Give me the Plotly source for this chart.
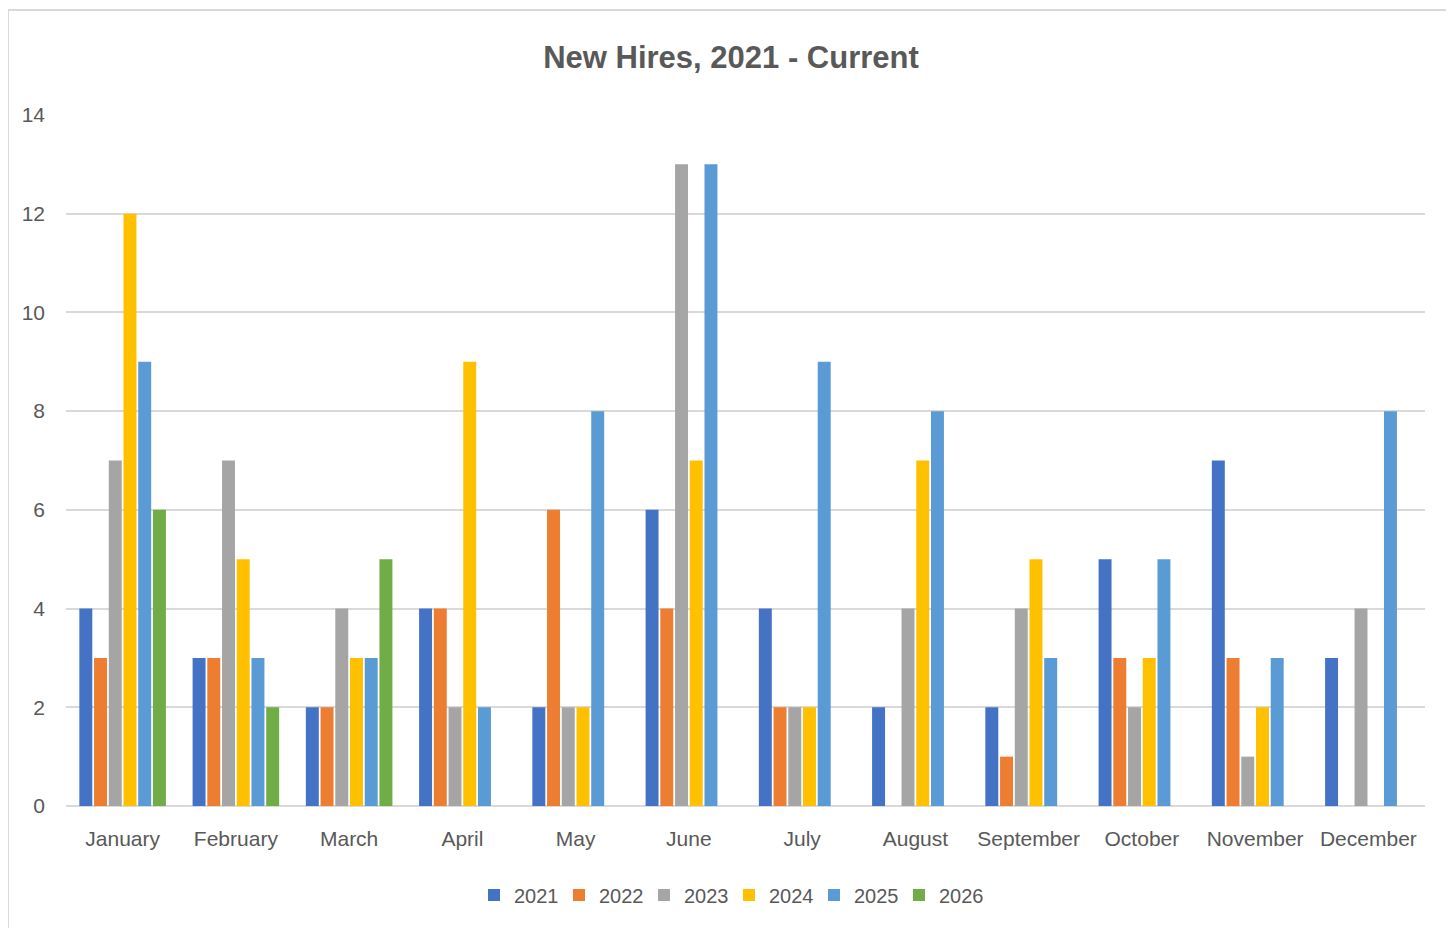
import plotly.graph_objects as go

months = ["January", "February", "March", "April", "May", "June", "July",
          "August", "September", "October", "November", "December"]
series_names = ["2021", "2022", "2023", "2024", "2025", "2026"]
hires_2021 = [4, 3, 2, 4, 2, 6, 4, 2, 2, 5, 7, 3]
hires_2022 = [3, 3, 2, 4, 6, 4, 2, None, 1, 3, 3, None]
hires_2023 = [7, 7, 4, 2, 2, 13, 2, 4, 4, 2, 1, 4]
hires_2024 = [12, 5, 3, 9, 2, 7, 2, 7, 5, 3, 2, None]
hires_2025 = [9, 3, 3, 2, 8, 13, 9, 8, 3, 5, 3, 8]
hires_2026 = [6, 2, 5, None, None, None, None, None, None, None, None, None]
colors = ["#4472C4", "#ED7D31", "#A5A5A5", "#FFC000", "#5B9BD5", "#70AD47"]
y_ticks = [0, 2, 4, 6, 8, 10, 12, 14]

all_series = [hires_2021, hires_2022, hires_2023, hires_2024, hires_2025, hires_2026]

FONT = "Liberation Sans Narrow, Arial Narrow, Liberation Sans, Arial, sans-serif"
TXT = "#595959"

fig = go.Figure()
for name, vals, col in zip(series_names, all_series, colors):
    fig.add_trace(go.Bar(x=months, y=vals, name=name, marker_color=col,
                         marker_line_width=0))

# page body has an 8px margin; target coords are shifted by -8
OFF = 8
W, H = 1454 - OFF, 928 - OFF
L = 66 - OFF
T = 115 - OFF
R = W - (1425 - OFF)
B = H - (806 - OFF)
pw, ph = W - L - R, H - T - B
base_y = 806 - OFF

fig.update_layout(
    width=W, height=H,
    margin=dict(l=L, r=R, t=T, b=B),
    paper_bgcolor="white", plot_bgcolor="white",
    barmode="group", bargap=0.22, bargroupgap=0.12,
    font=dict(family=FONT, color=TXT, size=20),
    title=dict(text="<b>New Hires, 2021 - Current</b>", x=(731 - OFF) / W, xanchor="center",
               y=1 - (57 - OFF) / H, yanchor="middle",
               font=dict(family=FONT, size=31, color=TXT)),
    legend=dict(orientation="h", x=(729 - OFF - L) / pw, xanchor="center",
                y=(base_y - (895 - OFF)) / ph, yanchor="middle",
                font=dict(family=FONT, size=20, color=TXT),
                itemwidth=30, entrywidth=40, entrywidthmode="pixels",
                traceorder="normal"),
    showlegend=True,
)
fig.update_xaxes(showgrid=False, showline=False, ticks="", ticklabelstandoff=18,
                 tickfont=dict(size=21, color=TXT))
fig.update_yaxes(range=[0, 14], tickvals=y_ticks, showgrid=True, gridcolor="#D9D9D9",
                 gridwidth=2, zeroline=True, zerolinecolor="#D9D9D9", zerolinewidth=2,
                 showline=False, ticks="", ticklabelstandoff=20,
                 tickfont=dict(size=21, color=TXT))

# chart border
fig.add_shape(type="rect", xref="paper", yref="paper",
              x0=(8 - OFF - L) / pw, x1=(1453 - OFF - L) / pw,
              y0=(base_y - 940) / ph, y1=(base_y - (10 - OFF)) / ph,
              line=dict(color="#D9D9D9", width=2), fillcolor="rgba(0,0,0,0)", layer="below")

fig.write_html("out.html")
